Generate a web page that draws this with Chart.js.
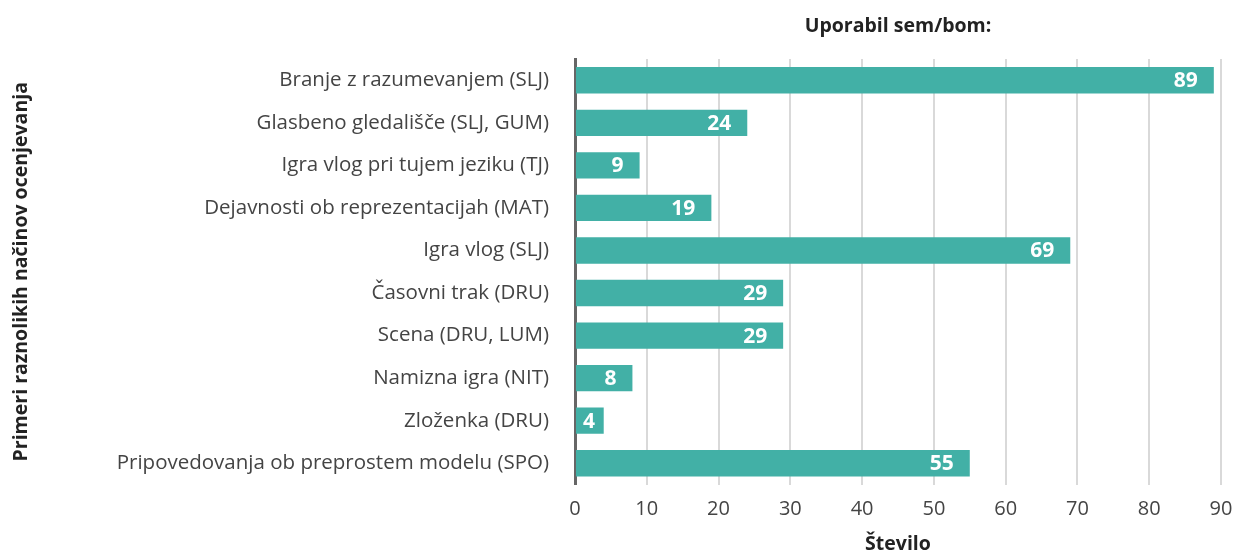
<!DOCTYPE html>
<html>
<head>
<meta charset="utf-8">
<script src="https://cdn.jsdelivr.net/npm/chart.js@4.4.1/dist/chart.umd.min.js"></script>
<style>
  html, body { margin: 0; padding: 0; background: #fff; }
  #wrap { width: 1234px; height: 551px; position: relative; }
</style>
</head>
<body>
<div id="wrap"><canvas id="chart"></canvas></div>
<script>
// Podatki
const categories = [
    'Branje z razumevanjem (SLJ)',
    'Glasbeno gledališče (SLJ, GUM)',
    'Igra vlog pri tujem jeziku (TJ)',
    'Dejavnosti ob reprezentacijah (MAT)',
    'Igra vlog (SLJ)',
    'Časovni trak (DRU)',
    'Scena (DRU, LUM)',
    'Namizna igra (NIT)',
    'Zloženka (DRU)',
    'Pripovedovanja ob preprostem modelu (SPO)'
];
const counts = [89, 24, 9, 19, 69, 29, 29, 8, 4, 55];
const xTicks = [0, 10, 20, 30, 40, 50, 60, 70, 80, 90];

const FONT = '"Open Sans", Lato, sans-serif';
const BAR_COLOR = '#42b0a6';

// Naslov nad grafom, centriran nad površino grafa
const topTitle = {
    id: 'topTitle',
    afterDraw(chart) {
        const { ctx, chartArea } = chart;
        ctx.save();
        ctx.font = 'bold 19.5px ' + FONT;
        ctx.fillStyle = '#222';
        ctx.textAlign = 'center';
        ctx.textBaseline = 'middle';
        ctx.fillText('Uporabil sem/bom:', (chartArea.left + chartArea.right) / 2, 26);
        ctx.restore();
    }
};

// Vrednosti znotraj stolpcev (pri kratkih stolpcih ne čez levi rob)
const barLabels = {
    id: 'barLabels',
    afterDatasetsDraw(chart) {
        const { ctx, chartArea } = chart;
        const meta = chart.getDatasetMeta(0);
        ctx.save();
        ctx.font = 'bold 21px ' + FONT;
        ctx.fillStyle = '#fff';
        ctx.textAlign = 'right';
        ctx.textBaseline = 'middle';
        meta.data.forEach((bar, i) => {
            const txt = String(counts[i]);
            const w = ctx.measureText(txt).width;
            const x = Math.max(bar.x - 16, chartArea.left + 8 + w);
            ctx.fillText(txt, x, bar.y + 1);
        });
        ctx.restore();
    }
};

new Chart(document.getElementById('chart'), {
    type: 'bar',
    data: {
        labels: categories,
        datasets: [{
            label: 'Število',
            data: counts,
            backgroundColor: BAR_COLOR,
            borderWidth: 0,
            barPercentage: 0.62,
            categoryPercentage: 1
        }]
    },
    options: {
        indexAxis: 'y',
        responsive: true,
        maintainAspectRatio: false,
        animation: false,
        layout: { padding: { top: 59, right: 0, bottom: 0, left: 0 } },
        plugins: {
            legend: { display: false },
            tooltip: { enabled: false }
        },
        scales: {
            x: {
                min: 0,
                max: 90,
                afterBuildTicks(scale) {
                    scale.ticks = xTicks.map(v => ({ value: v }));
                },
                // desni rob grafa naj bo na x = 1221
                afterFit(scale) { scale.paddingRight = 13; },
                grid: { color: '#d9d9d9', lineWidth: 2, drawTicks: false },
                border: { display: false },
                ticks: {
                    padding: 13,
                    color: '#444',
                    font: { family: FONT, size: 20 }
                },
                title: {
                    display: true,
                    text: 'Število',
                    color: '#222',
                    font: { family: FONT, size: 19.5, weight: 'bold', lineHeight: 1 },
                    padding: { top: 0, bottom: -3 }
                }
            },
            y: {
                afterFit(scale) { scale.width = 575; },
                grid: { display: false, drawTicks: false },
                border: { display: true, color: '#666', width: 3 },
                ticks: {
                    padding: 26,
                    color: '#444',
                    font: { family: FONT, size: 20.5 }
                },
                title: {
                    display: true,
                    text: 'Primeri raznolikih načinov ocenjevanja',
                    color: '#222',
                    font: { family: FONT, size: 19.5, weight: 'bold', lineHeight: 1 },
                    padding: { top: 12, bottom: 0 }
                }
            }
        }
    },
    plugins: [topTitle, barLabels]
});
</script>
</body>
</html>
